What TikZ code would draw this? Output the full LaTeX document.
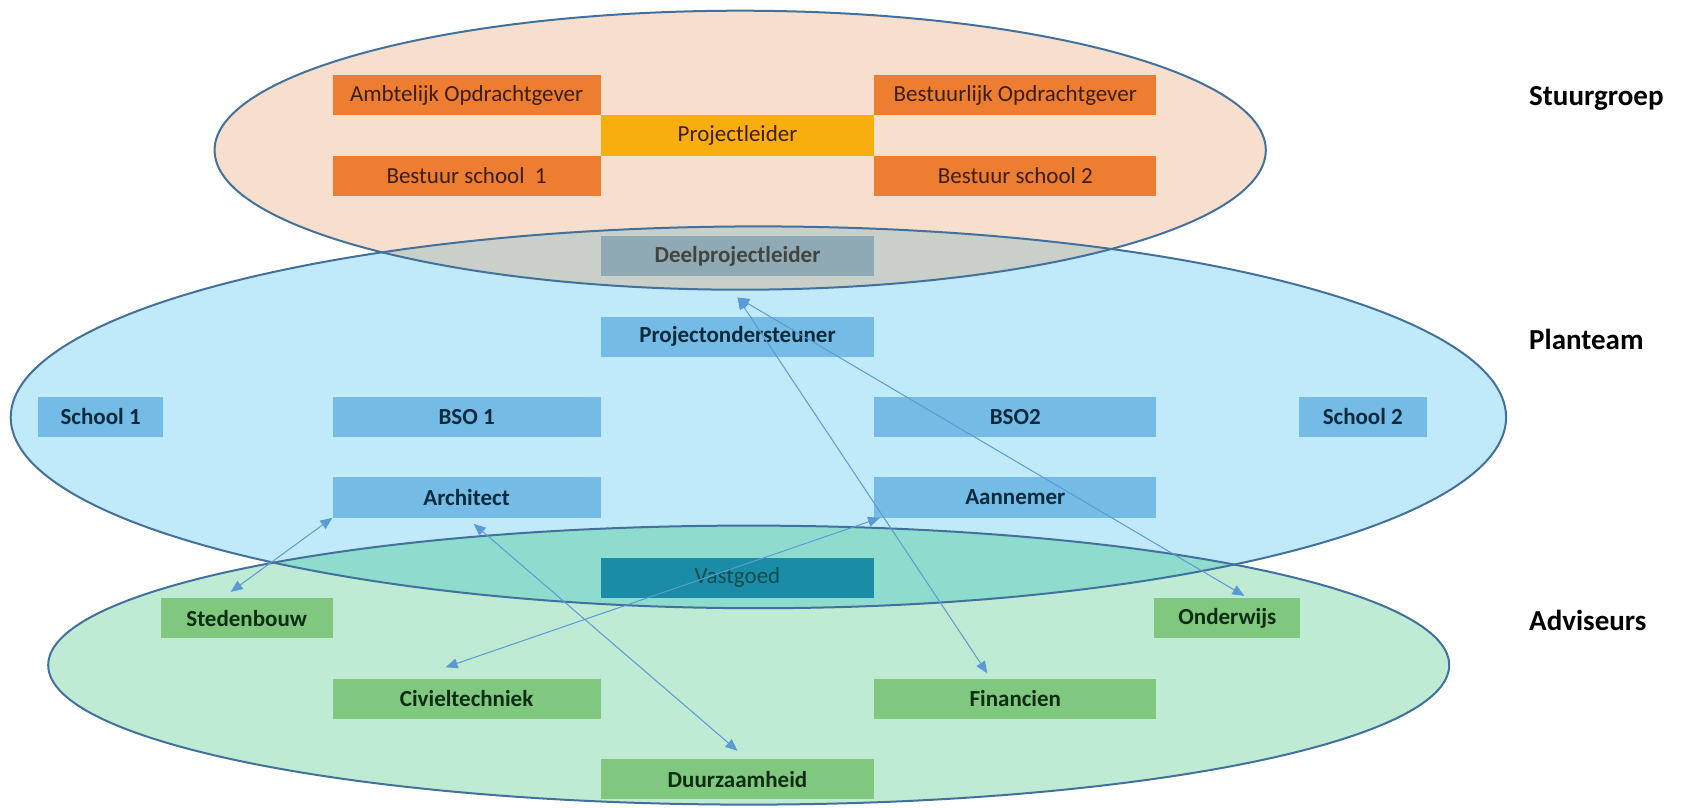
\documentclass[tikz,border=0pt]{standalone}
\usepackage{fontspec}
\setmainfont{Carlito}
\usetikzlibrary{arrows.meta}
\definecolor{peachfill}{HTML}{F8DFCD}
\definecolor{bluefill}{HTML}{C0EAFA}
\definecolor{greenfill}{HTML}{BFEAD3}
\definecolor{grayover}{HTML}{C9CFC9}
\definecolor{tealover}{HTML}{8DDCCE}
\definecolor{outl}{HTML}{41719C}
\definecolor{orgbox}{HTML}{ED7D31}
\definecolor{plbox}{HTML}{F9AE10}
\definecolor{orgtxt}{HTML}{3D1D0C}
\definecolor{deelbox}{HTML}{8FAAB5}
\definecolor{deeltxt}{HTML}{404540}
\definecolor{bluebox}{HTML}{74BBE6}
\definecolor{bluetxt}{HTML}{0B2A3C}
\definecolor{vastbox}{HTML}{1A8CA6}
\definecolor{vasttxt}{HTML}{0D4D50}
\definecolor{greenbox}{HTML}{80C77F}
\definecolor{greentxt}{HTML}{0B2E13}
\definecolor{arrowc}{HTML}{5B9BD5}
\begin{document}
\begin{tikzpicture}[x=1pt,y=-1pt,
  box/.style={inner sep=0pt, minimum height=40.2pt, font=\fontsize{23}{26}\selectfont},
  wa/.style={minimum width=268.2pt},
  wb/.style={minimum width=273.5pt},
  wc/.style={minimum width=282.1pt},
  obox/.style={box, fill=orgbox, text=orgtxt},
  ybox/.style={box, fill=plbox, text=orgtxt},
  dbox/.style={box, fill=deelbox, text=deeltxt, font=\fontsize{23}{26}\selectfont\bfseries},
  bbox/.style={box, fill=bluebox, text=bluetxt, font=\fontsize{23}{26}\selectfont\bfseries},
  vbox/.style={box, fill=vastbox, text=vasttxt},
  gbox/.style={box, fill=greenbox, text=greentxt, font=\fontsize{23}{26}\selectfont\bfseries},
  grouplabel/.style={anchor=west, inner sep=0pt, font=\fontsize{29}{32}\selectfont\bfseries, text=black},
  outline/.style={draw=outl, line width=2pt},
  conn/.style={draw=arrowc, line width=1pt, {Triangle[length=12pt,width=10pt]}-{Triangle[length=12pt,width=10pt]}}
]
\useasboundingbox (0,0) rectangle (1682,807);
% ellipse fills
\fill[peachfill] (740.2,150.2) ellipse [x radius=525.6, y radius=139.5];
\fill[bluefill] (758.4,417.3) ellipse [x radius=747.7, y radius=190.9];
\fill[greenfill] (748.7,665.1) ellipse [x radius=700.5, y radius=139.5];
\begin{scope}
  \clip (758.4,417.3) ellipse [x radius=747.7, y radius=190.9];
  \fill[grayover] (740.2,150.2) ellipse [x radius=525.6, y radius=139.5];
  \fill[tealover] (748.7,665.1) ellipse [x radius=700.5, y radius=139.5];
\end{scope}
% outlines
\draw[outline] (740.2,150.2) ellipse [x radius=525.6, y radius=139.5];
\draw[outline] (758.4,417.3) ellipse [x radius=747.7, y radius=190.9];
\draw[outline] (748.7,665.1) ellipse [x radius=700.5, y radius=139.5];

% Stuurgroep
\node[obox, wa] (amb) at (466.6,95.2) {Ambtelijk Opdrachtgever};
\node[obox, wc] (bestl) at (1015.3,95.2) {Bestuurlijk Opdrachtgever};
\node[ybox, wb] (pl) at (737.5,135.5) {Projectleider};
\node[obox, wa] (bs1) at (466.6,175.7) {Bestuur school~~1};
\node[obox, wc] (bs2) at (1015.3,175.7) {Bestuur school 2};
% Planteam
\node[dbox, wb] (deel) at (737.5,256.1) {Deelprojectleider};
\node[bbox, wb] (proj) at (737.5,336.6) {Projectondersteuner};
\node[bbox, minimum width=125pt] (sch1) at (100.6,417.0) {School 1};
\node[bbox, wa] (bso1) at (466.6,417.0) {BSO 1};
\node[bbox, wc] (bso2) at (1015.3,417.0) {BSO2};
\node[bbox, minimum width=128.5pt] (sch2) at (1362.8,417.0) {School 2};
\node[bbox, wa] (arch) at (466.6,497.5) {Architect};
\node[bbox, wc] (aann) at (1015.3,497.5) {Aannemer};
% Adviseurs
\node[vbox, wb] (vast) at (737.5,577.9) {Vastgoed};
\node[gbox, minimum width=171.6pt] (sted) at (246.7,618.2) {Stedenbouw};
\node[gbox, minimum width=146pt] (ond) at (1227.4,618.2) {Onderwijs};
\node[gbox, wa] (civ) at (466.6,698.6) {Civieltechniek};
\node[gbox, wc] (fin) at (1015.3,698.6) {Financien};
\node[gbox, wb] (duur) at (737.5,779.1) {Duurzaamheid};

% group labels
\node[grouplabel] (lstuur) at (1529,98.7) {Stuurgroep};
\node[grouplabel] (lplan) at (1529,339) {Planteam};
\node[grouplabel] (ladv) at (1529,620) {Adviseurs};

% connectors
\draw[conn] ([xshift=-16pt,yshift=6pt]sted.north) -- (arch.south west);
\draw[conn] ([xshift=-21pt,yshift=11pt]civ.north) -- ([xshift=6pt]aann.south west);
\draw[conn] ([xshift=7pt,yshift=-6pt]arch.south) -- ([yshift=8pt]duur.north);
\draw[conn] ([yshift=-21pt]deel.south) -- ([xshift=-28pt,yshift=5pt]fin.north);
\draw[conn] ([yshift=-21pt]deel.south) -- ([xshift=17pt,yshift=2pt]ond.north);
\end{tikzpicture}
\end{document}
